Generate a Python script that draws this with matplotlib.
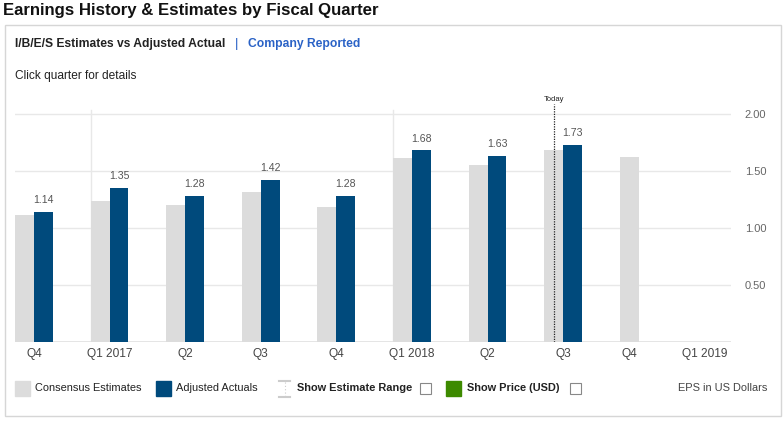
import matplotlib.pyplot as plt
from matplotlib.patches import Rectangle
import numpy as np

plt.rcParams['font.family'] = ['Liberation Sans', 'DejaVu Sans']

# data
quarters = ['Q4', 'Q1 2017', 'Q2', 'Q3', 'Q4', 'Q1 2018', 'Q2', 'Q3', 'Q4', 'Q1 2019']
estimates = [1.11, 1.24, 1.20, 1.32, 1.18, 1.61, 1.55, 1.68, 1.62, np.nan]
actuals = [1.14, 1.35, 1.28, 1.42, 1.28, 1.68, 1.63, 1.73, np.nan, np.nan]
year_starts = [1, 5]          # Q1 2017, Q1 2018
today_pos = 7                 # Q3 2018
y_ticks = [0.5, 1.0, 1.5, 2.0]

W, H = 784, 421
GRAY = '#dcdcdc'
BLUE = '#004a7c'
GREEN = '#3d8a00'
LINK = '#2a62c6'


def fx(x):
    return x / W


def fy(y):
    return 1 - y / H


fig = plt.figure(figsize=(W / 100, H / 100), dpi=100)

# outer panel border
fig.patches.append(Rectangle((fx(4.5), fy(416)), fx(776), 391 / H, transform=fig.transFigure,
                             fill=False, edgecolor='#d6d6d6', linewidth=1))

fig.text(fx(3), fy(10), 'Earnings History & Estimates by Fiscal Quarter', fontsize=12.1,
         fontweight='bold', va='center', ha='left', color='#111111')
fig.text(fx(15), fy(44), 'I/B/E/S Estimates vs Adjusted Actual', fontsize=8.7,
         fontweight='bold', va='center', color='#222222')
fig.text(fx(235), fy(44), '|', fontsize=9.5, va='center', color=LINK)
fig.text(fx(248), fy(44), 'Company Reported', fontsize=8.7, fontweight='bold',
         va='center', color=LINK)
fig.text(fx(15), fy(76), 'Click quarter for details', fontsize=8.6, va='center', color='#222222')

# plot area
ax = fig.add_axes([fx(15), fy(342), fx(731 - 15), (342 - 100) / H])
x = np.arange(len(quarters))
w = 0.25
ymax = (342 - 100) / 114

for yv in y_ticks:
    ax.axhline(yv, color='#e8e8e8', linewidth=1, zorder=0)
ax.axhline(0, color='#e0e0e0', linewidth=1.2, zorder=0)
for ys in year_starts:
    ax.plot([ys - w, ys - w], [0, 2.035], color='#e8e8e8', linewidth=1, zorder=0)

ax.bar(x - w / 2, estimates, width=w, color=GRAY, zorder=2)
ax.bar(x + w / 2, actuals, width=w, color=BLUE, zorder=3)
for xi, a in zip(x, actuals):
    if not np.isnan(a):
        ax.text(xi + w / 2, a + 0.06, f'{a:.2f}', ha='center', va='bottom',
                fontsize=7.6, color='#555555')

ax.plot([today_pos - 0.12, today_pos - 0.12], [0, 2.09], color='#222222',
        linewidth=0.9, linestyle=(0, (1, 1)), zorder=4)
ax.text(today_pos - 0.12, 2.13, 'Today', ha='center', va='center', fontsize=5.5,
        color='#222222', clip_on=False)

ax.set_xlim(-w, 9.22)
ax.set_ylim(0, ymax)

# tick labels: centred under the visible bars
tick_pos = [xi if not np.isnan(a) else (xi - w / 2 if not np.isnan(e) else xi - 0.13)
            for xi, a, e in zip(x, actuals, estimates)]
ax.set_xticks(tick_pos)
ax.set_xticklabels(quarters, fontsize=8.6, color='#444444')
ax.tick_params(axis='x', length=0, pad=4)
ax.set_yticks(y_ticks)
ax.set_yticklabels([f'{v:.2f}' for v in y_ticks], fontsize=8, color='#666666')
ax.yaxis.tick_right()
ax.tick_params(axis='y', length=0, pad=10)
for s in ax.spines.values():
    s.set_visible(False)

# legend row
def square(x0, color, size=15):
    fig.patches.append(Rectangle((fx(x0), fy(396)), fx(size), 15 / H,
                                 transform=fig.transFigure, color=color))


def checkbox(x0):
    fig.patches.append(Rectangle((fx(x0), fy(393.5)), fx(11), 11 / H, transform=fig.transFigure,
                                 fill=False, edgecolor='#888888', linewidth=0.8))


square(15, GRAY)
fig.text(fx(35), fy(388), 'Consensus Estimates', fontsize=7.9, va='center', color='#222222')
square(156, BLUE)
fig.text(fx(176), fy(388), 'Adjusted Actuals', fontsize=7.9, va='center', color='#222222')
# estimate range icon
fig.lines.append(plt.Line2D([fx(279), fx(290)], [fy(381), fy(381)], transform=fig.transFigure,
                            color='#cccccc', linewidth=1.5))
fig.lines.append(plt.Line2D([fx(279), fx(290)], [fy(397), fy(397)], transform=fig.transFigure,
                            color='#cccccc', linewidth=1.5))
fig.lines.append(plt.Line2D([fx(284.5), fx(284.5)], [fy(382), fy(396)], transform=fig.transFigure,
                            color='#cccccc', linewidth=0.8, linestyle=(0, (1, 2))))
fig.text(fx(297), fy(388), 'Show Estimate Range', fontsize=7.9, fontweight='bold',
         va='center', color='#222222')
checkbox(420.5)
square(446, GREEN)
fig.text(fx(467), fy(388), 'Show Price (USD)', fontsize=7.9, fontweight='bold',
         va='center', color='#222222')
checkbox(569.5)
fig.text(fx(767), fy(388), 'EPS in US Dollars', fontsize=7.9, va='center', ha='right',
         color='#444444')

fig.savefig('out.png', dpi=100)
